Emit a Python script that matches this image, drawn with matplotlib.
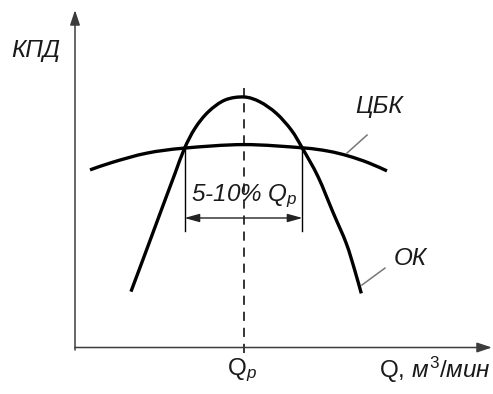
import matplotlib
matplotlib.use("Agg")
import matplotlib.pyplot as plt
from matplotlib.path import Path
from matplotlib.patches import PathPatch

plt.rcParams['font.family'] = ['Liberation Sans', 'DejaVu Sans']
plt.rcParams['mathtext.fontset'] = 'custom'
plt.rcParams['mathtext.rm'] = 'Liberation Sans'
plt.rcParams['mathtext.it'] = 'Liberation Sans:italic'

# Relative flow Q/Qp and relative efficiency (peak of ОК = 1)
ok_q = [0.331, 0.401, 0.467, 0.533, 0.593, 0.648, 0.710, 0.789, 0.888, 1.000,
        1.093, 1.191, 1.280, 1.346, 1.438, 1.527, 1.605, 1.655, 1.694]
ok_eta = [0.223, 0.349, 0.469, 0.589, 0.697, 0.795, 0.875, 0.941, 0.988, 1.000,
          0.981, 0.935, 0.868, 0.795, 0.682, 0.539, 0.416, 0.309, 0.216]

cbk_q = [0.089, 0.225, 0.426, 0.648, 1.000, 1.346, 1.497, 1.615, 1.734, 1.846]
cbk_eta = [0.709, 0.740, 0.776, 0.796, 0.810, 0.797, 0.784, 0.765, 0.738, 0.705]

q_design = 1.0
range_low, range_high = 0.648, 1.346
range_eta = 0.796


def smooth_path(xs, ys):
    """Catmull-Rom curve through the given points, drawn as cubic Bezier segments."""
    pts = list(zip(xs, ys))
    verts = [pts[0]]
    codes = [Path.MOVETO]
    n = len(pts)
    for i in range(n - 1):
        p0 = pts[i - 1] if i > 0 else pts[i]
        p1 = pts[i]
        p2 = pts[i + 1]
        p3 = pts[i + 2] if i + 2 < n else pts[i + 1]
        c1 = (p1[0] + (p2[0] - p0[0]) / 6, p1[1] + (p2[1] - p0[1]) / 6)
        c2 = (p2[0] - (p3[0] - p1[0]) / 6, p2[1] - (p3[1] - p1[1]) / 6)
        verts += [c1, c2, p2]
        codes += [Path.CURVE4] * 3
    return Path(verts, codes)


fig = plt.figure(figsize=(4.93, 3.94), dpi=100)
ax = fig.add_axes([0, 0, 1, 1])
ax.set_xlim(-0.4438, 2.4734)
ax.set_ylim(-0.1856, 1.3872)
ax.axis('off')

axis_col = '#3c3c3c'
txt_col = '#1a1a1a'
fs = 17.5

# axes with arrows
ax.annotate('', xy=(0, 1.347), xytext=(0, -0.01),
            arrowprops=dict(arrowstyle='-|>,head_length=0.9,head_width=0.3', color=axis_col, lw=1.1, shrinkA=0, shrinkB=0))
ax.annotate('', xy=(2.467, 0), xytext=(0, 0),
            arrowprops=dict(arrowstyle='-|>,head_length=0.9,head_width=0.3', color=axis_col, lw=1.1, shrinkA=0, shrinkB=0))

# dashed design line
ax.plot([q_design, q_design], [-0.02, 1.036], color='black', lw=1.1, dashes=(6, 4.5))

# curves
for xs, ys in ((ok_q, ok_eta), (cbk_q, cbk_eta)):
    ax.add_patch(PathPatch(smooth_path(xs, ys), facecolor='none', edgecolor='black',
                           lw=2.4, capstyle='butt', joinstyle='round'))

# range bracket
ax.plot([range_low, range_low], [range_eta, 0.465], color='black', lw=1.0)
ax.plot([range_high, range_high], [range_eta, 0.465], color='black', lw=1.0)
ax.annotate('', xy=(range_low, 0.517), xytext=(range_high, 0.517),
            arrowprops=dict(arrowstyle='<|-|>,head_length=0.9,head_width=0.25', color='#222222', lw=1.0, shrinkA=0, shrinkB=0))
ax.text(q_design, 0.605, r'5-10% Q$_{p}$', fontsize=fs, fontstyle='italic', ha='center', va='center', color=txt_col)

# leader lines
ax.plot([1.728, 1.609], [0.848, 0.776], color='#777777', lw=1.1)
ax.plot([1.834, 1.698], [0.317, 0.2495], color='#777777', lw=1.1)

# labels
ax.text(-0.234, 1.184, 'КПД', fontsize=fs, fontstyle='italic', ha='center', va='center', color=txt_col)
ax.text(1.799, 0.964, 'ЦБК', fontsize=fs, fontstyle='italic', ha='center', va='center', color=txt_col)
ax.text(1.982, 0.357, 'ОК', fontsize=fs, fontstyle='italic', ha='center', va='center', color=txt_col)
ax.text(0.99, -0.09, r'Q$_{p}$', fontsize=fs, ha='center', va='center', color=txt_col)
ax.text(2.46, -0.09, r'Q, $\mathit{м}^{3}\mathit{/мин}$', fontsize=fs, ha='right', va='center', color=txt_col)

fig.savefig('out.png', dpi=100)
